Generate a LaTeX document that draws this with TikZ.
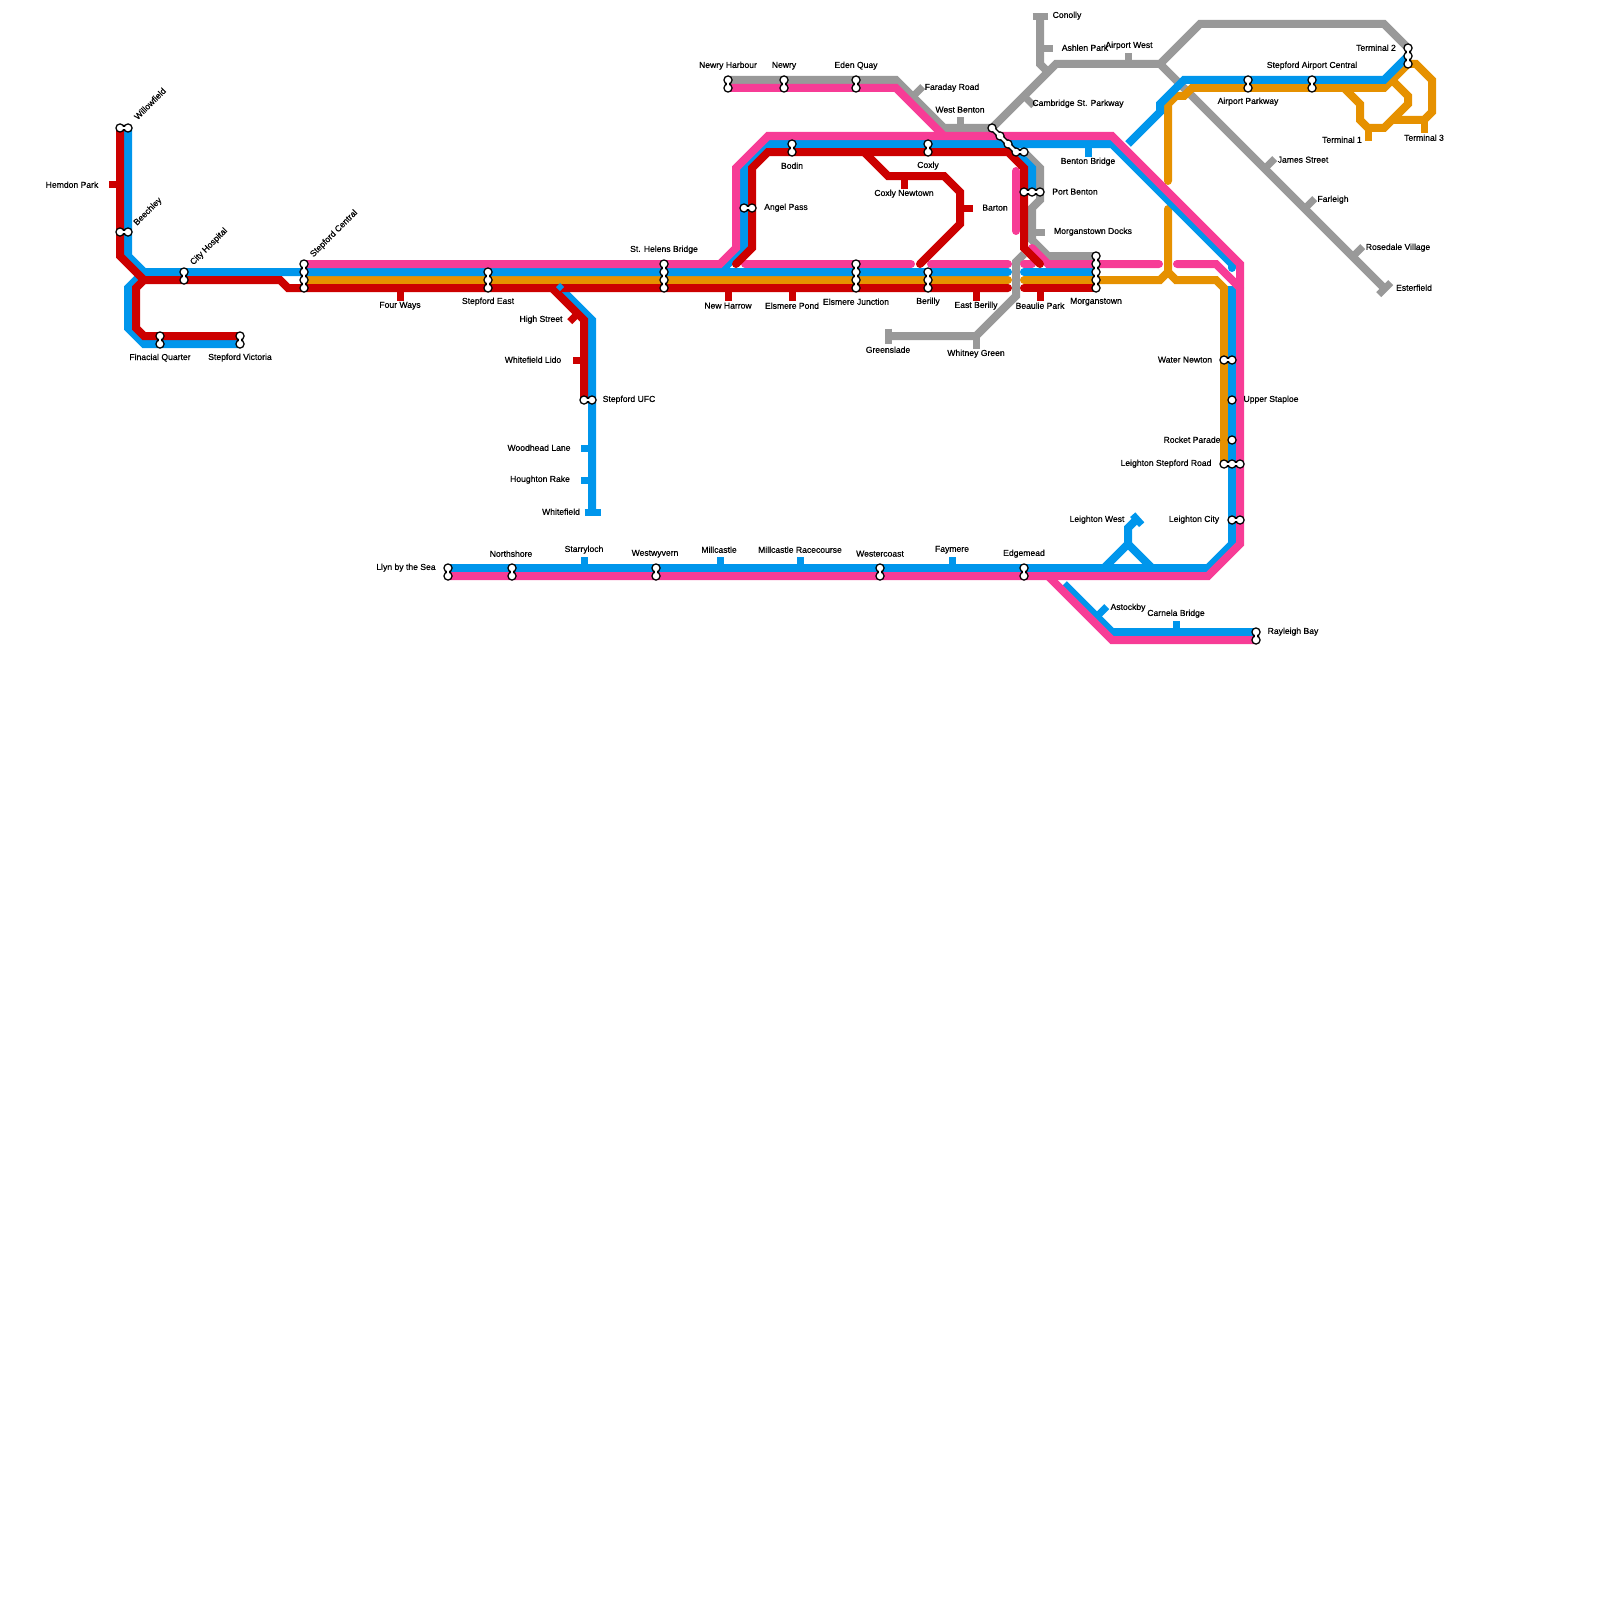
\documentclass[tikz,border=0pt]{standalone}
\usepackage{fontspec}
\setmainfont[FakeBold=0.55]{Liberation Sans}
\usetikzlibrary{positioning}
\definecolor{linered}{RGB}{204,0,0}
\definecolor{lineblue}{RGB}{0,150,236}
\definecolor{linepink}{RGB}{247,60,150}
\definecolor{lineorange}{RGB}{230,145,0}
\definecolor{linegrey}{RGB}{153,153,153}
\pgfdeclarelayer{lines}
\pgfsetlayers{lines,main}
\tikzset{
  redln/.style={draw=linered, line width=8pt},
  blueln/.style={draw=lineblue, line width=8pt},
  pinkln/.style={draw=linepink, line width=8pt},
  orangeln/.style={draw=lineorange, line width=8pt},
  greyln/.style={draw=linegrey, line width=8pt},
  rcap/.style={line cap=round},
  tickln/.style={line width=7pt, xshift=0.7pt, yshift=-0.7pt},
  redtick/.style={draw=linered, tickln},
  bluetick/.style={draw=lineblue, tickln},
  orangetick/.style={draw=lineorange, tickln},
  greytick/.style={draw=linegrey, tickln},
  stnout/.style={circle, fill=black, inner sep=0pt, minimum size=9.5pt},
  stnin/.style={circle, fill=white, inner sep=0pt, minimum size=6.5pt},
  linkout/.style={draw=black, line width=5.5pt},
  linkin/.style={draw=white, line width=2.6pt},
  lbl/.style={inner sep=0pt, text=black, yshift=-0.7pt, font=\fontsize{8.6}{10}\selectfont}
}
\begin{document}
\begin{tikzpicture}[x=1pt, y=-1pt]
  \useasboundingbox (0,0) rectangle (1600,1600);
  % stations
  \foreach \nm/\x/\y in {wil1/120/128, wil2/128/128, bee1/120/232, bee2/128/232,
      cit1/184/272, cit2/184/280, cen1/304/264, cen2/304/272, cen3/304/280, cen4/304/288,
      fin1/160/336, fin2/160/344, vic1/240/336, vic2/240/344,
      eas1/488/272, eas2/488/280, eas3/488/288,
      hel1/664/264, hel2/664/272, hel3/664/280, hel4/664/288,
      jun1/856/264, jun2/856/272, jun3/856/280, jun4/856/288,
      ber1/928/272, ber2/928/280, ber3/928/288,
      mor1/1096/256, mor2/1096/264, mor3/1096/272, mor4/1096/280, mor5/1096/288,
      har1/728/80, har2/728/88, nwr1/784/80, nwr2/784/88, edn1/856/80, edn2/856/88,
      bod1/792/144, bod2/792/152, cox1/928/144, cox2/928/152,
      ang1/744/208, ang2/752/208,
      por1/1024/192, por2/1032/192, por3/1040/192,
      wes1/992/128, wes2/1000/136, wes3/1008/144, wes4/1016/152, wes5/1024/152,
      pkw1/1248/80, pkw2/1248/88, apt1/1312/80, apt2/1312/88,
      trm1/1408/48, trm2/1408/56, trm3/1408/64,
      wat1/1224/360, wat2/1232/360, upp1/1232/400, roc1/1232/440,
      lsr1/1224/464, lsr2/1232/464, lsr3/1240/464, lcy1/1232/520, lcy2/1240/520,
      ufc1/584/400, ufc2/592/400, ray1/1256/632, ray2/1256/640,
      lyn1/448/568, lyn2/448/576, nsh1/512/568, nsh2/512/576,
      wyv1/656/568, wyv2/656/576, wct1/880/568, wct2/880/576, edg1/1024/568, edg2/1024/576}
    \node[stnout] (\nm) at (\x,\y) {};
  \foreach \a/\b in {wil1/wil2, bee1/bee2, cit1/cit2, cen1/cen4, fin1/fin2, vic1/vic2,
      eas1/eas3, hel1/hel4, jun1/jun4, ber1/ber3, mor1/mor5, har1/har2, nwr1/nwr2, edn1/edn2,
      bod1/bod2, cox1/cox2, ang1/ang2, por1/por3, wes1/wes4, wes4/wes5, pkw1/pkw2, apt1/apt2,
      trm1/trm3, wat1/wat2, lsr1/lsr3, lcy1/lcy2, ufc1/ufc2, ray1/ray2, lyn1/lyn2,
      nsh1/nsh2, wyv1/wyv2, wct1/wct2, edg1/edg2}
    \draw[linkout] (\a.center) -- (\b.center);
  \foreach \nm in {wil1, wil2, bee1, bee2, cit1, cit2, cen1, cen2, cen3, cen4,
      fin1, fin2, vic1, vic2, eas1, eas2, eas3, hel1, hel2, hel3, hel4,
      jun1, jun2, jun3, jun4, ber1, ber2, ber3, mor1, mor2, mor3, mor4, mor5,
      har1, har2, nwr1, nwr2, edn1, edn2, bod1, bod2, cox1, cox2, ang1, ang2,
      por1, por2, por3, wes1, wes2, wes3, wes4, wes5, pkw1, pkw2, apt1, apt2,
      trm1, trm2, trm3, wat1, wat2, upp1, roc1, lsr1, lsr2, lsr3, lcy1, lcy2,
      ufc1, ufc2, ray1, ray2, lyn1, lyn2, nsh1, nsh2, wyv1, wyv2, wct1, wct2, edg1, edg2}
    \node[stnin] (\nm i) at (\nm.center) {};
  \foreach \a/\b in {wil1/wil2, bee1/bee2, cit1/cit2, cen1/cen4, fin1/fin2, vic1/vic2,
      eas1/eas3, hel1/hel4, jun1/jun4, ber1/ber3, mor1/mor5, har1/har2, nwr1/nwr2, edn1/edn2,
      bod1/bod2, cox1/cox2, ang1/ang2, por1/por3, wes1/wes4, wes4/wes5, pkw1/pkw2, apt1/apt2,
      trm1/trm3, wat1/wat2, lsr1/lsr3, lcy1/lcy2, ufc1/ufc2, ray1/ray2, lyn1/lyn2,
      nsh1/nsh2, wyv1/wyv2, wct1/wct2, edg1/edg2}
    \draw[linkin] (\a.center) -- (\b.center);

  \begin{pgfonlayer}{lines}
    % grey
    \draw[greyln] (har1.center) -- (896,80) -- (944,128) -- (wes1.center) -- (1056,64) -- (1160,64)
      -- (1200,24) -- (1384,24) -- (trm1.center);
    \draw[greyln] (1160,64) -- (1384,288);
    \draw[greyln] (1040,16) -- (1040,64) -- (1048,72);
    \draw[greyln] (wes5.center) -- (1040,168) -- (1040,200) -- (1032,208) -- (1032,240) -- (1048,256) -- (mor1.center);
    \draw[greyln] (1024,254) -- (1016,262) -- (1016,296) -- (976,336) -- (888,336);
    \foreach \a/\b/\c/\d in {912/96/922/86, 960/128/960/116, 1032/16/1047/16, 1040/48/1052/48,
        1128/64/1128/52, 1024/96/1033/105, 1032/232/1044/232, 1264/168/1274/158,
        1304/208/1314/198, 1352/256/1362/246, 1378/294/1390/282, 976/336/976/348, 888/328/888/343}
      \draw[greytick] (\a,\b) -- (\c,\d);
    % orange
    \draw[orangeln] (cen3.center) -- (1008,280);
    \draw[orangeln, rcap] (1008,280) -- (1007,280);
    \draw[orangeln, rcap] (1024,280) -- (1160,280) -- (1168,272) -- (1168,209);
    \draw[orangeln] (1168,272) -- (1176,280) -- (1216,280) -- (1224,288) -- (lsr1.center);
    \draw[orangeln, rcap] (1168,181) -- (1168,104) -- (1176,96) -- (1184,96) -- (1192,88) -- (1384,88) -- (trm3.center);
    \draw[orangeln] (trm3.center) -- (1416,64) -- (1432,80) -- (1432,112) -- (1424,120) -- (1392,120);
    \draw[orangeln] (1392,80) -- (1408,96) -- (1408,104) -- (1384,128) -- (1368,128) -- (1360,120) -- (1360,104) -- (1344,88);
    \draw[orangetick] (1368,128) -- (1368,140);
    \draw[orangetick] (1424,120) -- (1424,132);
    % blue
    \draw[blueln] (wil2.center) -- (128,256) -- (144,272) -- (1008,272);
    \draw[blueln, rcap] (1008,272) -- (1007,272);
    \draw[blueln, rcap] (1024,272) -- (mor3.center);
    \draw[blueln] (144,272) -- (128,288) -- (128,328) -- (144,344) -- (vic2.center);
    \draw[blueln] (720,272) -- (744,248) -- (744,168) -- (768,144) -- (1112,144) -- (1232,264);
    \draw[blueln, rcap] (1232,264) -- (1232,268);
    \draw[blueln] (wes4.center) -- (1032,168) -- (por2.center);
    \draw[blueln] (1128,144) -- (1160,112) -- (1160,104) -- (1184,80) -- (1384,80) -- (trm2.center);
    \draw[blueln] (1232,286) -- (1232,544) -- (1208,568) -- (lyn1.center);
    \draw[blueln] (1152,568) -- (1128,544) -- (1104,568);
    \draw[blueln] (1128,544) -- (1128,528) -- (1136,520);
    \draw[blueln] (1064,584) -- (1112,632) -- (ray1.center);
    \draw[blueln] (560,288) -- (592,320) -- (592,512);
    \foreach \a/\b/\c/\d in {1132/514/1141/524, 1096/616/1106/606, 1176/632/1176/620, 584/512/600/512,
        592/448/580/448, 592/480/580/480, 584/568/584/556, 720/568/720/556, 800/568/800/556,
        952/568/952/556, 1088/144/1088/156}
      \draw[bluetick] (\a,\b) -- (\c,\d);
    % pink
    \draw[pinkln] (cen1.center) -- (720,264) -- (736,248) -- (736,168) -- (768,136) -- (1112,136)
      -- (1240,264) -- (1240,544) -- (1208,576) -- (lyn2.center);
    \draw[pinkln] (har2.center) -- (896,88) -- (944,136);
    \draw[pinkln, rcap] (745,264) -- (911,264);
    \draw[pinkln, rcap] (931,264) -- (1008,264);
    \draw[pinkln, rcap] (1024,264) -- (1032,264);
    \draw[pinkln, rcap] (1016,171) -- (1016,231);
    \draw[pinkln, rcap] (1032,248) -- (1048,264) -- (1159,264);
    \draw[pinkln, rcap] (1177,264) -- (1216,264) -- (1240,288);
    \draw[pinkln] (1048,576) -- (1112,640) -- (ray2.center);
    % red
    \draw[redln] (wil1.center) -- (120,256) -- (144,280) -- (280,280) -- (288,288) -- (1008,288);
    \draw[redln, rcap] (1008,288) -- (1007,288);
    \draw[redln, rcap] (1024,288) -- (mor5.center);
    \draw[redln] (144,280) -- (136,288) -- (136,328) -- (144,336) -- (vic1.center);
    \draw[redln] (552,288) -- (584,320) -- (ufc1.center);
    \draw[redln, rcap] (736,264) -- (752,248) -- (752,168) -- (768,152) -- (1008,152) -- (1024,168) -- (1024,248) -- (1040,264);
    \draw[redln, rcap] (864,152) -- (888,176) -- (944,176) -- (960,192) -- (960,224) -- (920,264);
    \foreach \a/\b/\c/\d in {120/184/108/184, 400/288/400/300, 728/288/728/300, 792/288/792/300,
        976/288/976/300, 1040/288/1040/300, 904/176/904/188, 960/208/972/208,
        578/312/569/321, 584/360/572/360}
      \draw[redtick] (\a,\b) -- (\c,\d);
    % blue stub showing through the red
    \draw[draw=lineblue, line width=6pt] (558,285) -- (562,289);
  \end{pgfonlayer}

  % labels
  \foreach \nm/\x/\y/\txt in {hemdon/72/184/Hemdon Park, finac/160/357/Finacial Quarter, stvic/240/357/Stepford Victoria,
      fourw/400/305/Four Ways, steast/488/301/Stepford East, sthel/664/249/St. Helens Bridge,
      high/541/319/High Street, wlido/533/359/Whitefield Lido, stufc/629/399/Stepford UFC,
      woodh/539/447/Woodhead Lane, hough/540/479/Houghton Rake, wfld/561/511/Whitefield,
      newh/728/305/New Harrow, elsp/792/305/Elsmere Pond, elsj/856/301/Elsmere Junction,
      beril/928/301/Berilly, eberi/976/305/East Berilly, beaul/1040/305/Beaulie Park, morg/1096/301/Morganstown,
      nharb/728/65/Newry Harbour, newry/784/65/Newry, edenq/856/65/Eden Quay, farad/952/87/Faraday Road,
      wbent/960/109/West Benton, bodin/792/165/Bodin, coxly/928/165/Coxly, coxn/904/193/Coxly Newtown,
      barton/995/207/Barton, angel/786/207/Angel Pass, conol/1067/15/Conolly, ashl/1085/47/Ashlen Park,
      airw/1129/45/Airport West, camb/1078/103/Cambridge St. Parkway, bbrid/1088/161/Benton Bridge,
      pben/1075/191/Port Benton, mdock/1093/231/Morganstown Docks, apkw/1248/101/Airport Parkway,
      sapt/1312/65/Stepford Airport Central, term2/1376/47/Terminal 2, term1/1342/139/Terminal 1,
      term3/1424/137/Terminal 3, james/1303/159/James Street, farl/1333/199/Farleigh,
      rosed/1398/247/Rosedale Village, ester/1414/287/Esterfield, watern/1185/359/Water Newton,
      upper/1271/399/Upper Staploe, rocket/1192/439/Rocket Parade, lstep/1166/463/Leighton Stepford Road,
      lcity/1194/519/Leighton City, lwest/1097/519/Leighton West, astk/1128/607/Astockby,
      carn/1176/613/Carnela Bridge, rayl/1293/631/Rayleigh Bay, green/888/349/Greenslade,
      whit/976/353/Whitney Green, llyn/406/567/Llyn by the Sea, north/511/553/Northshore,
      starr/584/549/Starryloch, westw/655/553/Westwyvern, millc/719/549/Millcastle,
      millr/800/549/Millcastle Racecourse, westc/880/553/Westercoast, faym/952/549/Faymere, edgem/1024/553/Edgemead}
    \node[lbl] (\nm) at (\x,\y) {\txt};
  \foreach \nm/\x/\y/\txt in {willow/150/103/Willowfield, beech/148/211/Beechley,
      chosp/209/246/City Hospital, scent/334/233/Stepford Central}
    \node[lbl, rotate=45] (\nm) at (\x,\y) {\txt};
\end{tikzpicture}
\end{document}
